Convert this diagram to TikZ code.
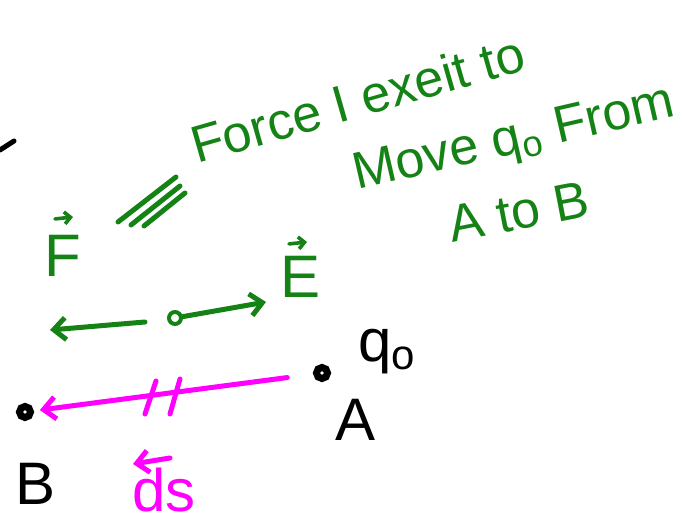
\documentclass[tikz,border=0pt]{standalone}
\usepackage{fontspec}
\setmainfont{Liberation Sans}
\usetikzlibrary{arrows.meta}
\definecolor{pengreen}{RGB}{20,130,20}
\definecolor{penpink}{RGB}{255,0,255}

\begin{document}
\begin{tikzpicture}[x=0.5pt, y=-0.5pt,
    texto/.style={font=\fontsize{30}{34}\selectfont, inner sep=0pt},
    nota/.style={font=\fontsize{26}{30}\selectfont, inner sep=0pt, text=pengreen, anchor=base west},
    punto/.style={circle, draw=black, fill=white, line width=3.5pt, minimum size=5.5pt, inner sep=0pt},
    anillo/.style={circle, draw=pengreen, fill=white, line width=2pt, minimum size=6pt, inner sep=0pt},
    trazo/.style={line width=2.5pt, line cap=round},
    flecha/.style={trazo, -{Straight Barb[length=6pt, width=11pt]}},
    flechita/.style={line width=1.8pt, line cap=round, -{Straight Barb[length=3pt, width=6pt]}}
]
    \useasboundingbox (0,0) rectangle (682,523);

    % --- RESTO DE TRAZO (ARRIBA A LA IZQUIERDA) ---
    \draw[trazo, black] (0,150) -- (14,141);

    % --- TEXTO VERDE ---
    \node[nota, rotate=16] (linea1) at (197,164) {Force I exeit to};
    \node[nota, rotate=13] (linea2) at (357,190) {Move q\textsubscript{o} From};
    \node[nota, rotate=11] (linea3) at (452,243) {A to B};

    % --- SIGNO DE IGUALDAD TRIPLE ---
    \draw[trazo, pengreen] (118,222) -- (176,177);
    \draw[trazo, pengreen] (131,225) -- (180,186);
    \draw[trazo, pengreen] (144,226) -- (185,193);

    % --- VECTORES F Y E ---
    \node[texto, text=pengreen] (F) at (63,256) {F};
    \draw[flechita, pengreen] ([xshift=-4pt, yshift=8pt]F.north) -- ([xshift=5pt, yshift=9pt]F.north);
    \node[texto, text=pengreen] (E) at (301,277) {E};
    \draw[flechita, pengreen] ([xshift=-6pt, yshift=6pt]E.north) -- ([xshift=3pt, yshift=7pt]E.north);

    % --- CARGA Y DIRECCIONES ---
    \node[anillo] (carga) at (175,318) {};
    \coordinate (izq0) at (145,322);
    \coordinate (izq) at (50,330);
    \coordinate (der) at (266,302);
    \draw[flecha, pengreen] (izq0) -- (izq);
    \draw[flecha, pengreen] (carga) -- (der);

    % --- PUNTOS A Y B ---
    \node[punto] (A) at (322,373) {};
    \node[punto] (B) at (25,412) {};
    \node[texto] (lA) at (356,420) {A};
    \node[texto] (lB) at (36,484) {B};
    \node[texto, anchor=base west] (q0) at (358,362) {q\textsubscript{o}};

    % --- DESPLAZAMIENTO ds ---
    \draw[flecha, penpink, shorten <=13pt, shorten >=3pt] (A) -- (B);
    \draw[trazo, penpink] (156,381) -- (145,414);
    \draw[trazo, penpink] (180,379) -- (170,414);
    \coordinate (ds0) at (170,458);
    \coordinate (ds1) at (133,464);
    \draw[flecha, penpink] (ds0) -- (ds1);
    \node[texto, text=penpink] (ds) at (164,490) {ds};
\end{tikzpicture}
\end{document}
